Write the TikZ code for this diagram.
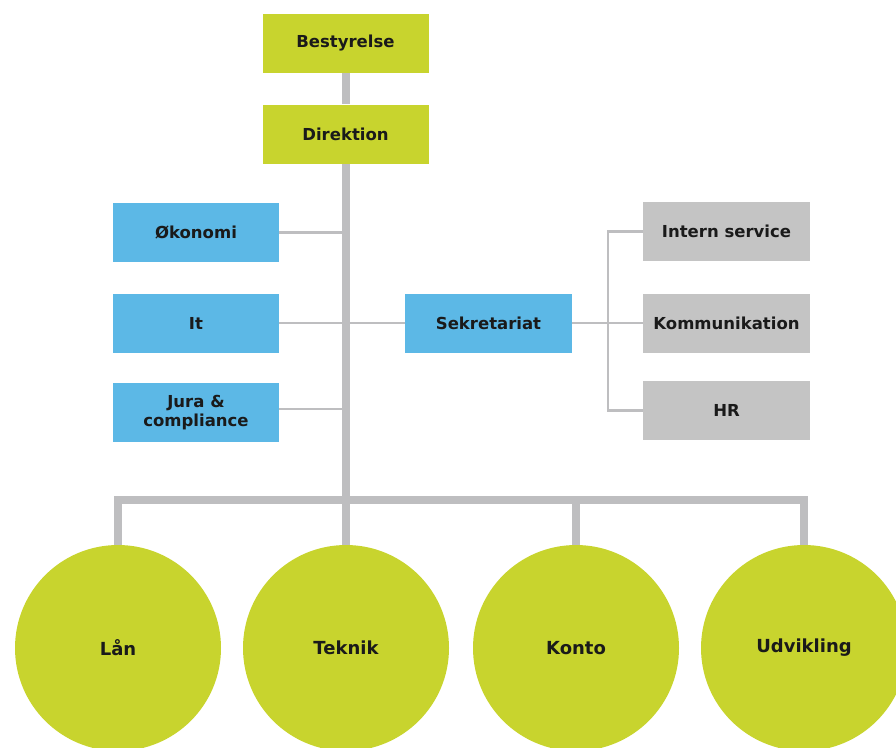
\documentclass[tikz,border=0pt]{standalone}
\usepackage{fontspec}
\setmainfont{DejaVu Sans}
\usetikzlibrary{backgrounds}
\definecolor{lime}{RGB}{200,212,46}
\definecolor{sky}{RGB}{92,184,230}
\definecolor{boxgrey}{RGB}{196,196,196}
\definecolor{linegrey}{RGB}{190,190,192}
\definecolor{ink}{RGB}{26,26,26}
\tikzset{
  box/.style={rectangle, minimum width=166pt, minimum height=59pt, inner sep=0pt,
    align=center, text=ink, font=\bfseries\fontsize{16.5}{19}\selectfont},
  topbox/.style={box, fill=lime},
  bluebox/.style={box, fill=sky},
  greybox/.style={box, fill=boxgrey},
  unit/.style={circle, fill=lime, minimum size=206pt, inner sep=0pt, text=ink,
    font=\bfseries\fontsize{18}{20}\selectfont},
  trunk/.style={draw=linegrey, line width=8pt, line join=miter},
  branch/.style={draw=linegrey, line width=2.5pt},
}
\begin{document}
\begin{tikzpicture}[x=1pt,y=-1pt]
\useasboundingbox (0,0) rectangle (896,747);
% coordinates
\coordinate (bus) at (346,500);
\coordinate (brk) at (608,323);
% nodes
\node[topbox] (best) at (345.5,43) {Bestyrelse};
\node[topbox] (dir) at (345.5,134) {Direktion};
\node[bluebox] (oko) at (196,232.5) {Økonomi};
\node[bluebox] (it) at (196,323) {It};
\node[bluebox] (jura) at (196,412.5) {Jura \&\\compliance};
\node[bluebox, minimum width=167pt] (sek) at (488.5,323) {Sekretariat};
\node[greybox, minimum width=167pt] (intern) at (726.5,231.5) {Intern service};
\node[greybox, minimum width=167pt] (komm) at (726.5,323) {Kommunikation};
\node[greybox, minimum width=167pt] (hr) at (726.5,410.5) {HR};
\node[unit] (lan) at (118,648) {Lån};
\node[unit] (tek) at (346,648) {Teknik};
\node[unit] (konto) at (576,648) {Konto};
\node[unit] (udv) at (804,648) {Udvikling};
% connectors (behind)
\begin{scope}[on background layer]
\draw[trunk] (best.south) -- (dir.north);
\draw[trunk] (dir.south) -- (dir.south |- bus);
\draw[trunk] (lan.north) -- (lan.north |- bus) -- (udv.north |- bus) -- (udv.north);
\draw[trunk] (tek.north) -- (tek.north |- bus);
\draw[trunk] (konto.north) -- (konto.north |- bus);
\draw[branch] (oko.east) -- (oko.east -| bus);
\draw[branch] (jura.east |- 0,409) -- (bus |- 0,409);
\draw[branch] (it.east) -- (sek.west);
\draw[branch] (sek.east) -- (brk);
\draw[branch] (intern.west) -- (intern.west -| brk) -- (hr.west -| brk) -- (hr.west);
\draw[branch] (komm.west) -- (brk);
\end{scope}
\end{tikzpicture}
\end{document}
